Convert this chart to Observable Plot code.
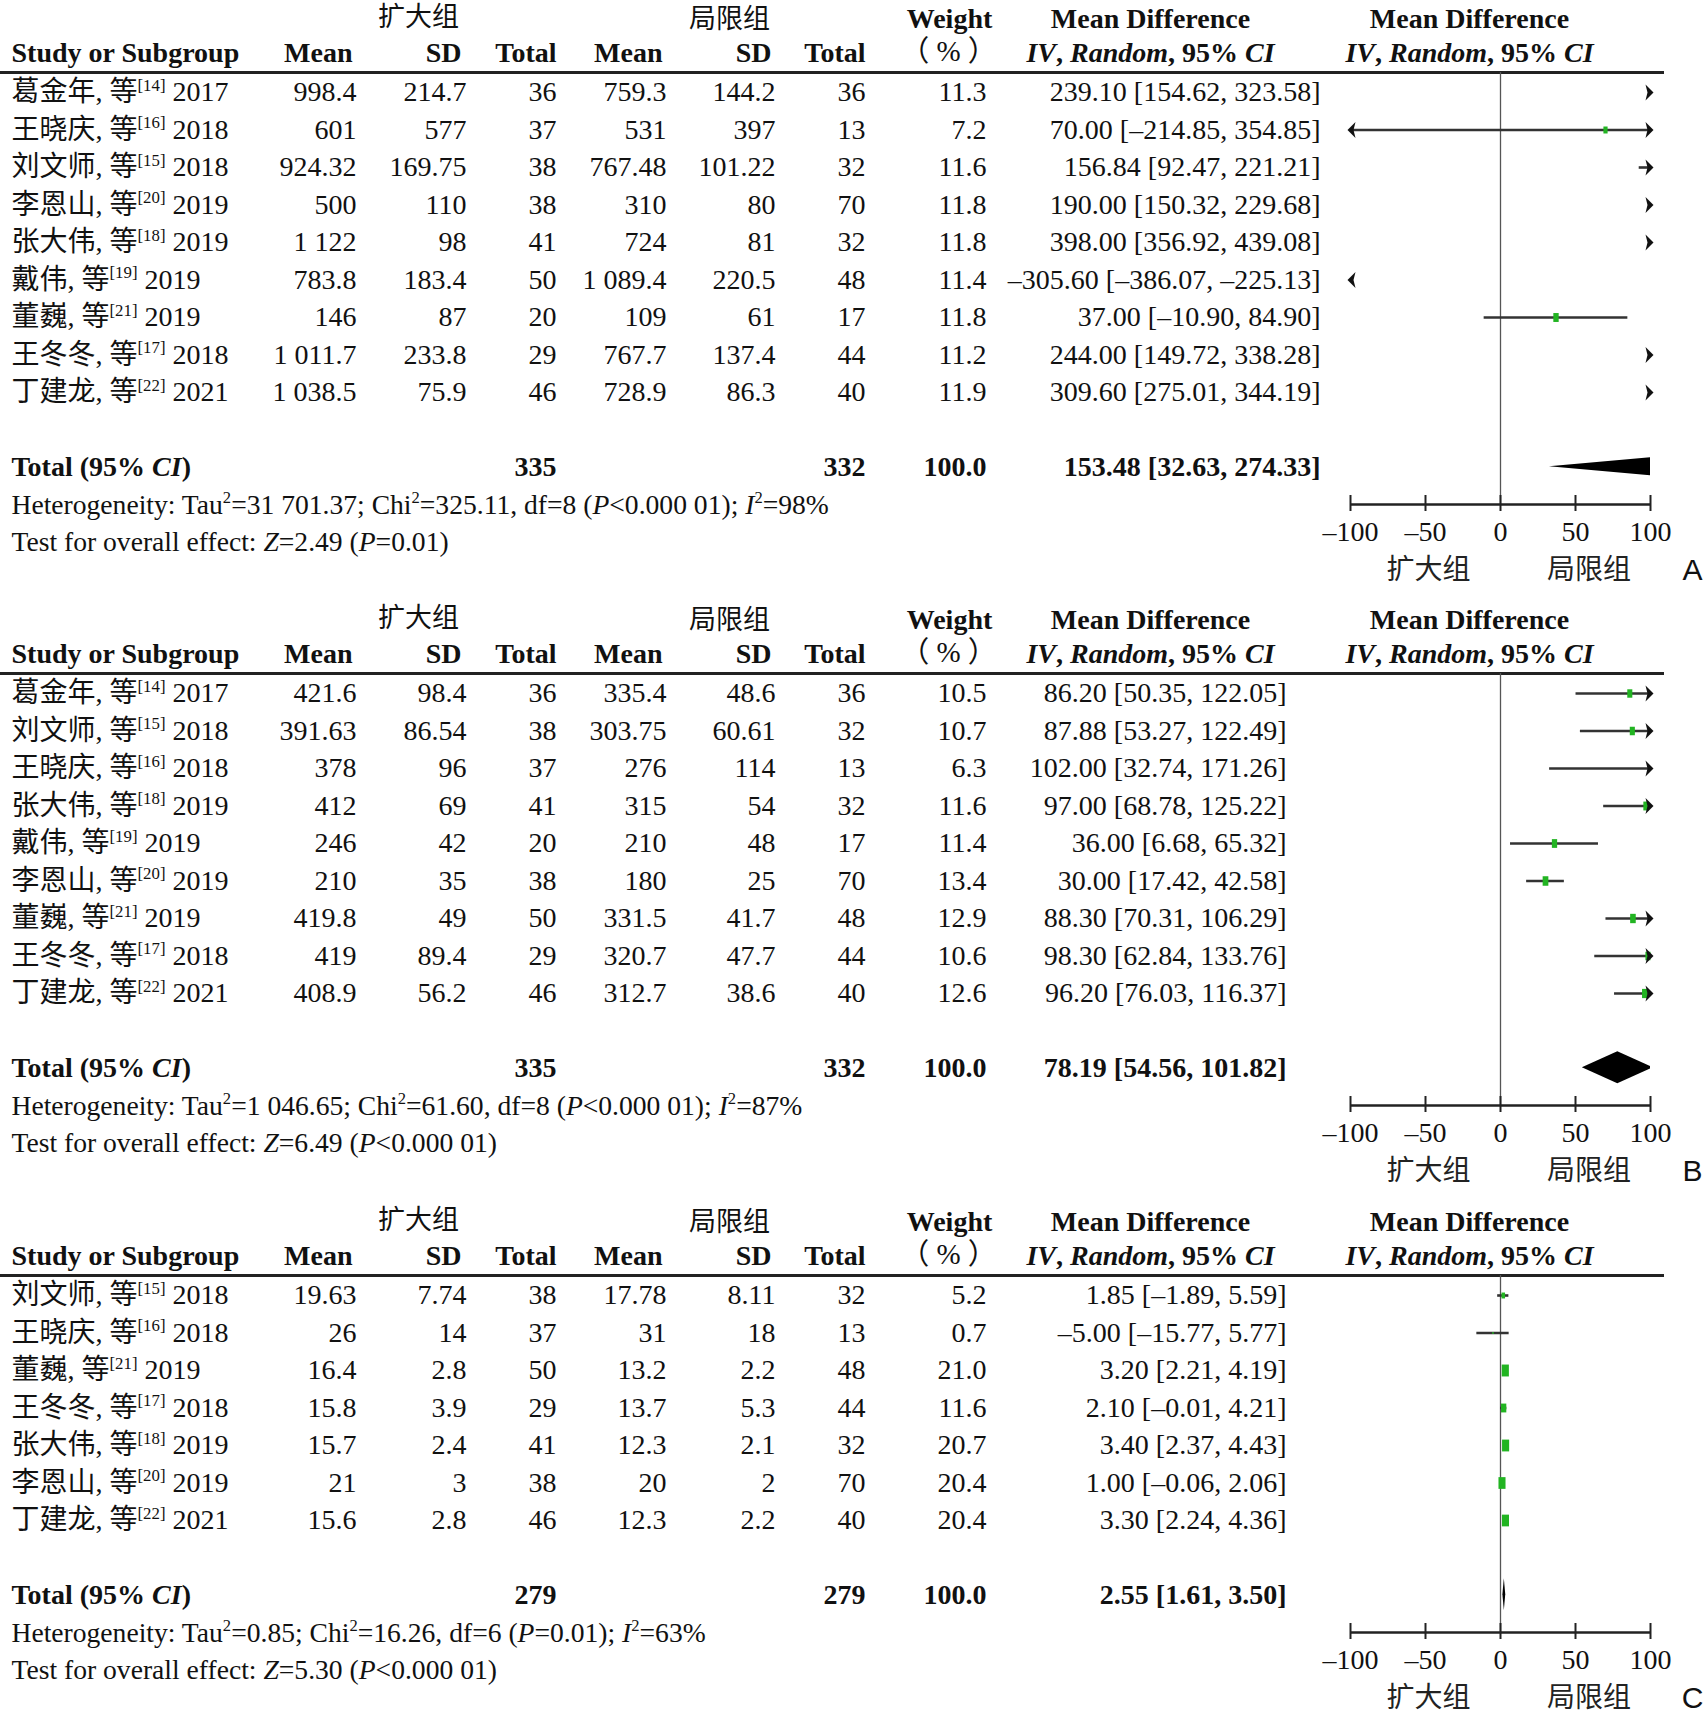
<!DOCTYPE html>
<html><head><meta charset="utf-8">
<script src="https://cdn.jsdelivr.net/npm/d3@7"></script>
<script src="https://cdn.jsdelivr.net/npm/@observablehq/plot@0.6"></script>
<style>
body{margin:0;background:#fff;}
#chart svg{display:block;}
</style></head><body><div id="chart"></div>
<script>
// ---------------- DATA ----------------
const ticks = [-100, -50, 0, 50, 100];
const groupExp = "扩大组", groupCtl = "局限组";

// Panel A
const studiesA = ["葛金年, 等^[14]^ 2017","王晓庆, 等^[16]^ 2018","刘文师, 等^[15]^ 2018","李恩山, 等^[20]^ 2019","张大伟, 等^[18]^ 2019","戴伟, 等^[19]^ 2019","董巍, 等^[21]^ 2019","王冬冬, 等^[17]^ 2018","丁建龙, 等^[22]^ 2021"];
const expMeanA = [998.4, 601, 924.32, 500, 1122, 783.8, 146, 1011.7, 1038.5];
const expSdA   = [214.7, 577, 169.75, 110, 98, 183.4, 87, 233.8, 75.9];
const expNA    = [36, 37, 38, 38, 41, 50, 20, 29, 46];
const ctlMeanA = [759.3, 531, 767.48, 310, 724, 1089.4, 109, 767.7, 728.9];
const ctlSdA   = [144.2, 397, 101.22, 80, 81, 220.5, 61, 137.4, 86.3];
const ctlNA    = [36, 13, 32, 70, 32, 48, 17, 44, 40];
const weightA  = [11.3, 7.2, 11.6, 11.8, 11.8, 11.4, 11.8, 11.2, 11.9];
const mdA      = [239.10, 70.00, 156.84, 190.00, 398.00, -305.60, 37.00, 244.00, 309.60];
const loA      = [154.62, -214.85, 92.47, 150.32, 356.92, -386.07, -10.90, 149.72, 275.01];
const hiA      = [323.58, 354.85, 221.21, 229.68, 439.08, -225.13, 84.90, 338.28, 344.19];
const totalNA  = [335, 332];
const totalEffA = [153.48, 32.63, 274.33];
const hetA  = "Heterogeneity: Tau^2^=31 701.37; Chi^2^=325.11, df=8 (_P_<0.000 01); _I_^2^=98%";
const testA = "Test for overall effect: _Z_=2.49 (_P_=0.01)";

// Panel B
const studiesB = ["葛金年, 等^[14]^ 2017","刘文师, 等^[15]^ 2018","王晓庆, 等^[16]^ 2018","张大伟, 等^[18]^ 2019","戴伟, 等^[19]^ 2019","李恩山, 等^[20]^ 2019","董巍, 等^[21]^ 2019","王冬冬, 等^[17]^ 2018","丁建龙, 等^[22]^ 2021"];
const expMeanB = [421.6, 391.63, 378, 412, 246, 210, 419.8, 419, 408.9];
const expSdB   = [98.4, 86.54, 96, 69, 42, 35, 49, 89.4, 56.2];
const expNB    = [36, 38, 37, 41, 20, 38, 50, 29, 46];
const ctlMeanB = [335.4, 303.75, 276, 315, 210, 180, 331.5, 320.7, 312.7];
const ctlSdB   = [48.6, 60.61, 114, 54, 48, 25, 41.7, 47.7, 38.6];
const ctlNB    = [36, 32, 13, 32, 17, 70, 48, 44, 40];
const weightB  = [10.5, 10.7, 6.3, 11.6, 11.4, 13.4, 12.9, 10.6, 12.6];
const mdB      = [86.20, 87.88, 102.00, 97.00, 36.00, 30.00, 88.30, 98.30, 96.20];
const loB      = [50.35, 53.27, 32.74, 68.78, 6.68, 17.42, 70.31, 62.84, 76.03];
const hiB      = [122.05, 122.49, 171.26, 125.22, 65.32, 42.58, 106.29, 133.76, 116.37];
const totalNB  = [335, 332];
const totalEffB = [78.19, 54.56, 101.82];
const hetB  = "Heterogeneity: Tau^2^=1 046.65; Chi^2^=61.60, df=8 (_P_<0.000 01); _I_^2^=87%";
const testB = "Test for overall effect: _Z_=6.49 (_P_<0.000 01)";

// Panel C
const studiesC = ["刘文师, 等^[15]^ 2018","王晓庆, 等^[16]^ 2018","董巍, 等^[21]^ 2019","王冬冬, 等^[17]^ 2018","张大伟, 等^[18]^ 2019","李恩山, 等^[20]^ 2019","丁建龙, 等^[22]^ 2021"];
const expMeanC = [19.63, 26, 16.4, 15.8, 15.7, 21, 15.6];
const expSdC   = [7.74, 14, 2.8, 3.9, 2.4, 3, 2.8];
const expNC    = [38, 37, 50, 29, 41, 38, 46];
const ctlMeanC = [17.78, 31, 13.2, 13.7, 12.3, 20, 12.3];
const ctlSdC   = [8.11, 18, 2.2, 5.3, 2.1, 2, 2.2];
const ctlNC    = [32, 13, 48, 44, 32, 70, 40];
const weightC  = [5.2, 0.7, 21.0, 11.6, 20.7, 20.4, 20.4];
const mdC      = [1.85, -5.00, 3.20, 2.10, 3.40, 1.00, 3.30];
const loC      = [-1.89, -15.77, 2.21, -0.01, 2.37, -0.06, 2.24];
const hiC      = [5.59, 5.77, 4.19, 4.21, 4.43, 2.06, 4.36];
const totalNC  = [279, 279];
const totalEffC = [2.55, 1.61, 3.50];
const hetC  = "Heterogeneity: Tau^2^=0.85; Chi^2^=16.26, df=6 (_P_=0.01); _I_^2^=63%";
const testC = "Test for overall effect: _Z_=5.30 (_P_<0.000 01)";

// ---------------- FORMAT ----------------
const grp = s => { const [a, b] = s.split("."); return a.replace(/\B(?=(\d{3})+(?!\d))/g, " ") + (b !== undefined ? "." + b : ""); };
const fmtNum = v => grp(String(v));
const fmtMD = v => (v < 0 ? "–" : "") + Math.abs(v).toFixed(2);
const fmtCI = (m, l, h) => `${fmtMD(m)} [${fmtMD(l)}, ${fmtMD(h)}]`;
const fmtTick = v => (v < 0 ? "–" : "") + Math.abs(v);

// ---------------- LAYOUT ----------------
const ROW = 37.5, ROW0 = 92;           // row pitch and first row centre (px)
const W = 1706;
const GREEN = "#22b422";
const FONT = "'Liberation Serif','Noto Sans CJK SC',serif";
const FS = 28;

const arrowRight = {draw(c){ c.moveTo(3,0); c.lineTo(-5,-8); c.lineTo(-3,0); c.lineTo(-5,8); c.closePath(); }};
const arrowLeft  = {draw(c){ c.moveTo(-3,0); c.lineTo(5,-8); c.lineTo(3,0); c.lineTo(5,8); c.closePath(); }};
const box = {draw(c, size){ const s = Math.sqrt(size/Math.PI)*2; const w = s*0.6, h = s; c.rect(-w/2, -h/2, w, h); }};

function label(t, px, y, anchor, opts = {}) {
  return Plot.text([t], {text: d => d, y: () => y, frameAnchor: "left", dx: px, textAnchor: anchor, fontSize: FS, fill: "#111", ...opts});
}

function panel(cfg) {
  const {studies, eMean, eSd, eN, cMean, cSd, cN, w, md, lo, hi, totN, totEff, het, test, letter, mdRight, height} = cfg;
  const n = studies.length;
  const rows = studies.map((s, i) => ({i, s, eMean: eMean[i], eSd: eSd[i], eN: eN[i], cMean: cMean[i], cSd: cSd[i], cN: cN[i], w: w[i], md: md[i], lo: lo[i], hi: hi[i]}));
  const yTot = n + 1, yAxis = n + 1 + 37/ROW, yTick = n + 1 + 65/ROW, yGrp = n + 1 + 103/ROW;
  const yRule = (72 - ROW0)/ROW, yH1 = (19 - ROW0)/ROW, yH2 = (53 - ROW0)/ROW, yG = (17 - ROW0)/ROW;
  const clamp = v => Math.max(-100, Math.min(100, v));
  const visible = rows.filter(d => d.hi >= -100 && d.lo <= 100);

  // diamond (clipped to axis range)
  const [tm, tl, th] = totEff, hh = 16/ROW;
  const f = x => x <= tm ? hh*(x - tl)/(tm - tl) : hh*(th - x)/(th - tm);
  const xs = Array.from(new Set([clamp(tl), clamp(tm), clamp(th)])).sort((a, b) => a - b);
  const dia = xs.map(x => ({x, y1: yTot - 0.02 - f(x), y2: yTot - 0.02 + f(x)}));

  const cols = [["eMean", 356, fmtNum], ["eSd", 466, fmtNum], ["eN", 556, fmtNum], ["cMean", 666, fmtNum], ["cSd", 775, fmtNum], ["cN", 865, fmtNum], ["w", 986, v => v.toFixed(1)]];

  const marks = [
    Plot.ruleY([yRule], {stroke: "#222", strokeWidth: 3}),
    Plot.ruleX([0], {y1: yRule, y2: yAxis, stroke: "#555", strokeWidth: 1.3}),
    // header
    label(groupExp, 418, yG, "middle", {fontSize: 27}),
    label(groupCtl, 729, yG + 0.05, "middle", {fontSize: 27}),
    label("Study or Subgroup", 11, yH2, "start", {fontWeight: "bold"}),
    label("Mean", 352, yH2, "end", {fontWeight: "bold"}),
    label("SD", 461, yH2, "end", {fontWeight: "bold"}),
    label("Total", 556, yH2, "end", {fontWeight: "bold"}),
    label("Mean", 662, yH2, "end", {fontWeight: "bold"}),
    label("SD", 771, yH2, "end", {fontWeight: "bold"}),
    label("Total", 865, yH2, "end", {fontWeight: "bold"}),
    label("Weight", 949, yH1, "middle", {fontWeight: "bold"}),
    label("（ % ）", 948, yH2 - 0.05, "middle", {fontSize: 29}),
    label("Mean Difference", 1150, yH1, "middle", {fontWeight: "bold"}),
    label("_IV_, _Random_, 95% _CI_", 1150, yH2, "middle", {fontWeight: "bold"}),
    label("Mean Difference", 1469, yH1, "middle", {fontWeight: "bold"}),
    label("_IV_, _Random_, 95% _CI_", 1469, yH2, "middle", {fontWeight: "bold"}),
    // rows
    Plot.text(rows, {y: "i", text: "s", frameAnchor: "left", dx: 11, textAnchor: "start", fontSize: FS, fill: "#111"}),
    ...cols.map(([k, px, fmt]) => Plot.text(rows, {y: "i", text: d => fmt(d[k]), frameAnchor: "left", dx: px, textAnchor: "end", fontSize: FS, fill: "#111"})),
    Plot.text(rows, {y: "i", text: d => fmtCI(d.md, d.lo, d.hi), frameAnchor: "left", dx: mdRight, textAnchor: "end", fontSize: FS, fill: "#111"}),
    // totals
    label("Total (95% _CI_)", 11, yTot, "start", {fontWeight: "bold"}),
    label(fmtNum(totN[0]), 556, yTot, "end", {fontWeight: "bold"}),
    label(fmtNum(totN[1]), 865, yTot, "end", {fontWeight: "bold"}),
    label((100).toFixed(1), 986, yTot, "end", {fontWeight: "bold"}),
    label(fmtCI(tm, tl, th), mdRight, yTot, "end", {fontWeight: "bold"}),
    label(het, 11, yTot + 1, "start", {fontSize: 27.6}),
    label(test, 11, yTot + 2, "start", {fontSize: 27.6}),
    // forest
    Plot.ruleY(visible, {y: "i", x1: d => clamp(d.lo), x2: d => clamp(d.hi), stroke: "#333", strokeWidth: 2.6}),
    ...visible.filter(d => d.md >= -100 && d.md <= 100).map(d =>
      Plot.dot([d], {x: "md", y: "i", r: Math.sqrt(d.w)*1.3, symbol: box, fill: GREEN, stroke: "none"})),
    Plot.dot(rows.filter(d => d.hi > 100), {x: () => 100, y: "i", symbol: arrowRight, fill: "#111", stroke: "none"}),
    Plot.dot(rows.filter(d => d.lo < -100), {x: () => -100, y: "i", symbol: arrowLeft, fill: "#111", stroke: "none"}),
    Plot.areaY(dia, {x: "x", y1: "y1", y2: "y2", fill: "#000"}),
    // axis
    Plot.ruleY([yAxis], {x1: -100, x2: 100, stroke: "#222", strokeWidth: 2.5}),
    Plot.ruleX(ticks, {x: d => d, y1: yAxis - 9/ROW, y2: yAxis + 7/ROW, stroke: "#222", strokeWidth: 2}),
    Plot.text(ticks, {x: d => d, y: () => yTick, text: fmtTick, fontSize: FS, fill: "#111"}),
    Plot.text([groupExp], {x: () => -48, y: () => yGrp, text: d => d, fontSize: FS, fill: "#222"}),
    Plot.text([groupCtl], {x: () => 59, y: () => yGrp, text: d => d, fontSize: FS, fill: "#222"}),
    label(letter, 1692, yGrp, "middle", {fontFamily: "'Liberation Sans',sans-serif", fontSize: 30})
  ];

  return Plot.plot({
    width: W, height,
    marginLeft: 0, marginRight: 42, marginTop: 0, marginBottom: 0,
    x: {domain: [-100, 100], range: [1350, 1650], axis: null},
    y: {domain: [(0 - ROW0)/ROW, (height - ROW0)/ROW], range: [0, height], axis: null},
    style: {fontFamily: FONT, fontSize: FS + "px", background: "#fff", color: "#111", overflow: "visible"},
    marks
  });
}

// rich text: ^sup^ and _italic_
function richify(svg) {
  const NS = "http://www.w3.org/2000/svg";
  svg.querySelectorAll("text").forEach(el => {
    const t = el.textContent;
    if (!/[\^_]/.test(t)) return;
    const fs = parseFloat(getComputedStyle(el).fontSize) || FS;
    const parts = t.split(/(\^[^^]*\^|_[^_]*_)/).filter(p => p);
    el.textContent = "";
    let raised = false;
    for (const p of parts) {
      const ts = document.createElementNS(NS, "tspan");
      if (p.startsWith("^")) {
        ts.textContent = p.slice(1, -1);
        ts.style.fontSize = (fs*0.6) + "px";
        ts.setAttribute("dy", -fs*0.38);
        raised = true;
      } else {
        const it = p.startsWith("_");
        ts.textContent = it ? p.slice(1, -1) : p;
        if (it) ts.style.fontStyle = "italic";
        if (raised) { ts.setAttribute("dy", fs*0.38); raised = false; }
      }
      el.appendChild(ts);
    }
  });
}

const chart = document.getElementById("chart");
const panels = [
  {studies: studiesA, eMean: expMeanA, eSd: expSdA, eN: expNA, cMean: ctlMeanA, cSd: ctlSdA, cN: ctlNA, w: weightA, md: mdA, lo: loA, hi: hiA, totN: totalNA, totEff: totalEffA, het: hetA, test: testA, letter: "A", mdRight: 1320, height: 601},
  {studies: studiesB, eMean: expMeanB, eSd: expSdB, eN: expNB, cMean: ctlMeanB, cSd: ctlSdB, cN: ctlNB, w: weightB, md: mdB, lo: loB, hi: hiB, totN: totalNB, totEff: totalEffB, het: hetB, test: testB, letter: "B", mdRight: 1286, height: 602},
  {studies: studiesC, eMean: expMeanC, eSd: expSdC, eN: expNC, cMean: ctlMeanC, cSd: ctlSdC, cN: ctlNC, w: weightC, md: mdC, lo: loC, hi: hiC, totN: totalNC, totEff: totalEffC, het: hetC, test: testC, letter: "C", mdRight: 1286, height: 513}
];
for (const p of panels) {
  const svg = panel(p);
  chart.appendChild(svg);
  richify(svg);
}
</script></body></html>
